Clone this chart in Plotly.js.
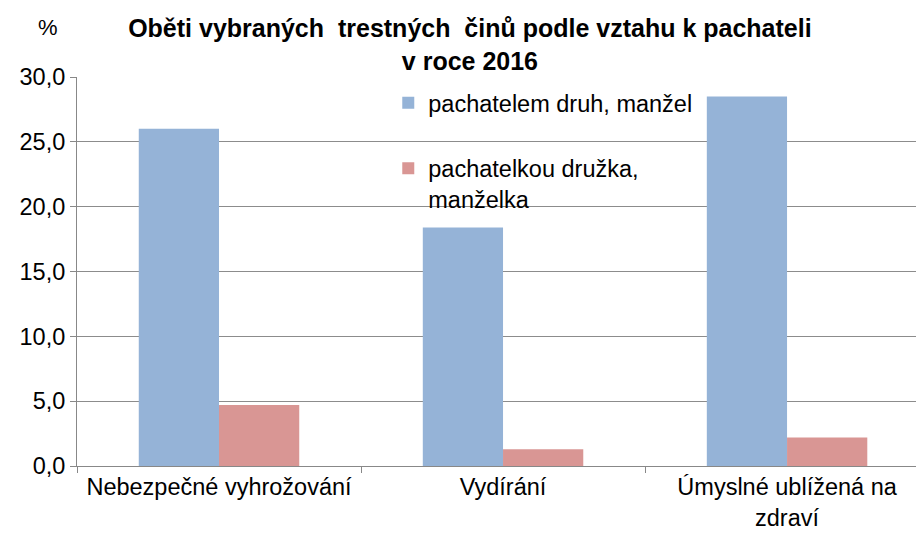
<!DOCTYPE html>
<html><head><meta charset="utf-8">
<script src="https://cdn.plot.ly/plotly-3.0.1.min.js"></script>
<style>body{margin:0}#c{width:916px;height:534px}</style>
</head><body><div id="c"></div>
<script>
var categories = ["Nebezpečné vyhrožování", "Vydírání", "Úmyslné ublížená na<br>zdraví"];
var seriesNames = ["pachatelem druh, manžel", "pachatelkou družka,<br>manželka"];
var men = [26.0, 18.4, 28.5];
var women = [4.7, 1.3, 2.2];
var yTicks = [0, 5, 10, 15, 20, 25, 30];
var yTickText = ["0,0", "5,0", "10,0", "15,0", "20,0", "25,0", "30,0"];

var font = "Liberation Sans, Arial, sans-serif";
var data = [
  {type: "bar", x: categories, y: men, name: seriesNames[0], legendgroup: "a",
   marker: {color: "#95B3D7"}},
  {type: "bar", x: categories, y: women, name: seriesNames[1], legendgroup: "b",
   marker: {color: "#D99694"}}
];
var layout = {
  width: 916, height: 534,
  margin: {l: 77, r: 0, t: 77, b: 68},
  paper_bgcolor: "#fff", plot_bgcolor: "#fff",
  barmode: "group", bargap: 0.435, bargroupgap: 0,
  title: {text: "<b>Oběti vybraných  trestných  činů podle vztahu k pachateli<br>v roce 2016</b>",
          font: {family: font, size: 25, color: "#000"}, x: 0.513, xanchor: "center",
          yref: "paper", y: 1, yanchor: "bottom", pad: {b: 40}},
  xaxis: {range: [-0.5, 2.454], showgrid: false, showline: true, linecolor: "#888", linewidth: 1,
          ticks: "outside", ticklen: 6, tickcolor: "#888", tickson: "boundaries",
          tickfont: {family: font, size: 23.5, color: "#000"}, fixedrange: true},
  yaxis: {range: [0, 30], tickvals: yTicks, ticktext: yTickText, showgrid: true, gridcolor: "#8c8c8c",
          gridwidth: 1, showline: true, linecolor: "#888", ticks: "outside", ticklen: 6, tickcolor: "#888",
          zeroline: false, tickfont: {family: font, size: 23.5, color: "#000"}},
  legend: {x: 0.371, y: 0.99, xanchor: "left", yanchor: "top", bgcolor: "rgba(0,0,0,0)",
           font: {family: font, size: 23.5, color: "#000"}, valign: "top",
           traceorder: "grouped", tracegroupgap: 32},
  annotations: [{text: "%", xref: "paper", yref: "paper", x: -0.035, y: 1.127, xanchor: "center", yanchor: "middle",
                 showarrow: false, font: {family: font, size: 22, color: "#000"}}]
};
Plotly.newPlot("c", data, layout, {displayModeBar: false, staticPlot: true});
</script></body></html>
